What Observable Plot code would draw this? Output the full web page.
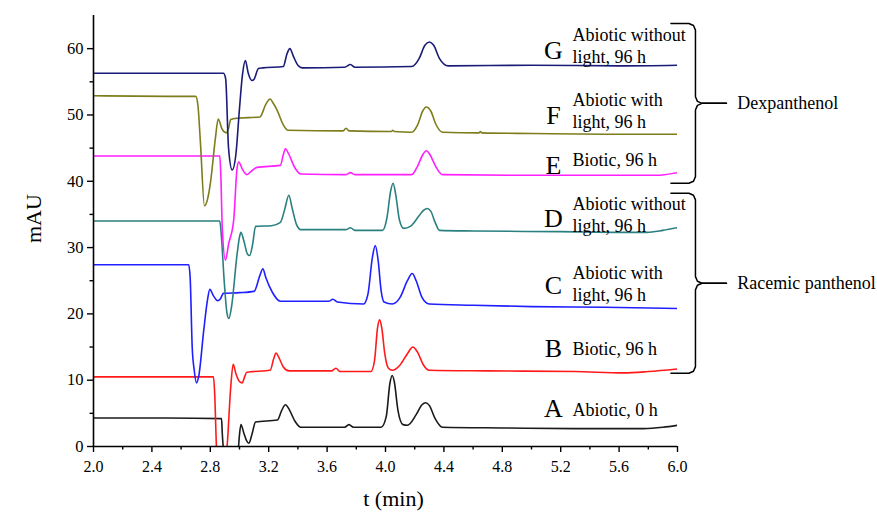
<!DOCTYPE html>
<html>
<head>
<meta charset="utf-8">
<script src="https://cdn.jsdelivr.net/npm/d3@7"></script>
<script src="https://cdn.jsdelivr.net/npm/@observablehq/plot@0.6"></script>
<style>
  html, body { margin: 0; padding: 0; background: #fff; }
</style>
</head>
<body>
<div id="chart"></div>
<script>
// ---- Data (t in min, absorbance in mAU) ----
const seriesA = [[2.0,4.3],[2.5,4.3],[2.877,4.2],[2.882,2],[2.888,0],[2.92,-8],[2.96,-5],[2.99,-1],[3.0,1.8],[3.01,3.3],[3.03,2.0],[3.05,0.8],[3.064,0.5],[3.085,1.8],[3.11,3.7],[3.26,4.0],[3.29,5.5],[3.315,6.3],[3.34,5.6],[3.38,3.8],[3.42,2.9],[3.72,2.9],[3.75,3.3],[3.78,2.9],[3.97,2.9],[4.005,4.5],[4.03,9.5],[4.046,10.7],[4.06,9.8],[4.085,5.5],[4.12,3.3],[4.15,3.2],[4.21,4.8],[4.25,6.3],[4.274,6.6],[4.30,6.2],[4.34,4.2],[4.39,2.9],[4.8,2.8],[5.3,2.7],[5.77,2.7],[5.9,2.9],[6.0,3.2]];
const seriesB = [[2.0,10.5],[2.5,10.5],[2.822,10.5],[2.83,8],[2.842,0],[2.875,-8],[2.905,-2],[2.915,0],[2.94,9],[2.957,12.4],[2.975,11],[3.0,9.8],[3.018,9.6],[3.035,10.5],[3.05,11.2],[3.21,11.5],[3.235,13.3],[3.25,14.1],[3.27,13.4],[3.30,12],[3.34,11.4],[3.63,11.4],[3.66,11.8],[3.69,11.3],[3.90,11.3],[3.925,13],[3.945,17.8],[3.96,19.1],[3.975,17.8],[3.995,14],[4.02,11.8],[4.046,11.5],[4.10,12.3],[4.15,14.0],[4.187,15.0],[4.22,14.2],[4.26,12.3],[4.30,11.5],[4.7,11.4],[5.3,11.3],[5.63,11.1],[5.8,11.3],[6.0,11.7]];
const seriesC = [[2.0,27.4],[2.5,27.4],[2.652,27.4],[2.662,25.5],[2.676,15],[2.69,11.5],[2.705,9.6],[2.72,10.5],[2.755,17.5],[2.78,22.0],[2.797,23.7],[2.82,22.8],[2.85,22.0],[2.87,22.3],[2.89,23.1],[3.0,23.2],[3.10,23.4],[3.14,25.8],[3.16,26.8],[3.18,25.5],[3.224,23.3],[3.28,21.9],[3.61,21.9],[3.64,22.2],[3.67,21.8],[3.85,21.5],[3.88,23],[3.91,28.5],[3.93,30.3],[3.95,28],[3.97,23.5],[3.99,21.8],[4.046,21.5],[4.10,22.5],[4.15,25],[4.183,26.1],[4.21,25],[4.25,22.5],[4.30,21.5],[4.6,21.3],[5.0,21.1],[5.5,21.0],[6.0,20.8]];
const seriesD = [[2.0,34.0],[2.5,34.0],[2.865,34.0],[2.875,32],[2.895,25],[2.915,20],[2.927,19.3],[2.945,21],[2.984,29.1],[3.0,31.6],[3.01,32.3],[3.03,31],[3.055,29],[3.07,28.8],[3.09,30.5],[3.11,33.2],[3.22,33.3],[3.28,33.8],[3.31,35.8],[3.338,37.9],[3.36,36],[3.39,33.5],[3.42,32.7],[3.73,32.7],[3.76,33.0],[3.79,32.6],[3.98,32.6],[4.01,34.5],[4.035,38.5],[4.052,39.7],[4.07,38],[4.095,34.2],[4.125,32.9],[4.17,33.2],[4.23,34.8],[4.26,35.6],[4.285,35.9],[4.31,35.5],[4.34,33.8],[4.37,32.6],[4.6,32.5],[5.2,32.4],[5.6,32.3],[5.79,32.3],[5.9,32.6],[6.0,33.0]];
const seriesE = [[2.0,43.8],[2.5,43.8],[2.865,43.8],[2.872,41],[2.882,33],[2.904,28.1],[2.925,30.5],[2.96,34.1],[2.984,42.1],[2.995,42.9],[3.02,41.8],[3.05,41.0],[3.08,41.5],[3.12,42.1],[3.28,42.4],[3.30,44.0],[3.315,44.9],[3.335,44.2],[3.38,42.0],[3.42,41.1],[3.73,41.0],[3.76,41.3],[3.79,41.0],[4.18,41.0],[4.22,42.3],[4.255,44.0],[4.28,44.6],[4.305,44.0],[4.34,42.4],[4.39,41.0],[5.0,40.9],[5.6,40.9],[5.85,40.9],[6.0,41.3]];
const seriesF = [[2.0,52.9],[2.5,52.8],[2.70,52.8],[2.715,51.5],[2.733,45.6],[2.76,36.3],[2.78,37.2],[2.80,39.6],[2.836,46.7],[2.854,49.4],[2.88,47.9],[2.91,47.3],[2.925,48.0],[2.94,49.3],[2.98,49.5],[3.14,49.7],[3.18,51.6],[3.21,52.4],[3.23,51.8],[3.258,50.7],[3.30,48.5],[3.33,47.7],[3.71,47.6],[3.73,48.0],[3.75,47.6],[4.04,47.5],[4.05,47.7],[4.06,47.5],[4.18,47.4],[4.22,48.5],[4.255,50.6],[4.28,51.2],[4.31,50.6],[4.345,48.6],[4.39,47.4],[4.64,47.3],[4.65,47.5],[4.66,47.3],[5.0,47.2],[5.5,47.1],[6.0,47.1]];
const seriesG = [[2.0,56.3],[2.5,56.3],[2.89,56.3],[2.905,55.5],[2.925,45],[2.95,41.7],[2.975,44],[3.0,51],[3.02,56],[3.04,58.2],[3.06,56.3],[3.085,55.2],[3.10,55.4],[3.13,57.0],[3.16,57.1],[3.30,57.3],[3.325,59.2],[3.345,60.0],[3.37,58.8],[3.40,57.5],[3.43,57.1],[3.72,57.2],[3.76,57.6],[3.79,57.2],[4.18,57.3],[4.23,58.5],[4.27,60.5],[4.30,61.0],[4.33,60.5],[4.37,58.5],[4.43,57.4],[5.0,57.5],[5.6,57.4],[6.0,57.5]];

const letters = ["A","B","C","D","E","F","G"];
const descriptions = ["Abiotic, 0 h","Biotic, 96 h","Abiotic with\nlight, 96 h","Abiotic without\nlight, 96 h","Biotic, 96 h","Abiotic with\nlight, 96 h","Abiotic without\nlight, 96 h"];
const groupNames = ["Dexpanthenol","Racemic panthenol"];
const xMajorTicks = [2.0,2.4,2.8,3.2,3.6,4.0,4.4,4.8,5.2,5.6,6.0];
const xMinorTicks = [2.2,2.6,3.0,3.4,3.8,4.2,4.6,5.0,5.4,5.8];
const yMajorTicks = [0,10,20,30,40,50,60];
const yMinorTicks = [5,15,25,35,45,55];

// ---- Styling / annotation layout ----
const colors = ["#1a1a1a","#ff1a1a","#1f1fff","#2a7f7f","#ff1fff","#7d7d1c","#1b1b78"];
const allSeries = [seriesA,seriesB,seriesC,seriesD,seriesE,seriesF,seriesG];
const letterY = [5.7,14.8,24.3,34.4,42.4,49.9,59.7];
const descY = [5.7,14.8,24.7,35.1,43.4,50.8,60.6];
const letterX = 5.15, descX = 5.28;
const groupSpan = [[63.8,39.7],[38.2,11.05]];

function brace(top, bottom, x0, xs, xtip) {
  const mid = (top + bottom) / 2, rx = 0.045, ry = 1.0;
  const half = (e, s) => [
    [x0, e], [xs - rx, e], [xs - rx*0.3, e - s*ry*0.3], [xs, e - s*ry],
    [xs, mid + s*ry], [xs + rx*0.3, mid + s*ry*0.3], [xs + rx, mid], [xtip, mid]
  ];
  return [half(top, 1), half(bottom, -1)];
}
const braceLines = [];
groupSpan.forEach((g, i) => {
  brace(g[0], g[1], 5.955, 6.123, 6.335).forEach((pts, k) =>
    pts.forEach(p => braceLines.push({x: p[0], y: p[1], id: i*2 + k})));
});
const groupLabels = groupNames.map((n, i) => ({name: n, y: (groupSpan[i][0] + groupSpan[i][1]) / 2}));

const labelRows = letters.map((l, i) => ({letter: l, desc: descriptions[i], ly: letterY[i], dy: descY[i]}));

const chart = Plot.plot({
  width: 877,
  height: 513,
  marginLeft: 93,
  marginRight: 200,
  marginTop: 15,
  marginBottom: 67,
  x: {domain: [2, 6], label: null},
  y: {domain: [0, 65], label: null},
  style: {fontFamily: "'Liberation Serif', 'Times New Roman', serif", fontSize: "16px", background: "#fff", color: "#000"},
  marks: [
    ...allSeries.map((s, i) => Plot.line(s, {x: d => d[0], y: d => d[1], stroke: colors[i], strokeWidth: 1.6, curve: "monotone-x", clip: true})),
    Plot.ruleX([2], {stroke: "#000", strokeWidth: 1.6}),
    Plot.ruleY([0], {stroke: "#000", strokeWidth: 1.6}),
    Plot.axisX({ticks: xMajorTicks, tickSize: 6, tickPadding: 8, tickFormat: d3.format(".1f"), label: null, fontSize: 16, strokeWidth: 1.4}),
    Plot.axisX({ticks: xMinorTicks, tickSize: 3.5, tickFormat: () => "", label: null, strokeWidth: 1.4}),
    Plot.axisY({ticks: yMajorTicks, tickSize: 6, tickPadding: 4, label: null, fontSize: 16.5, strokeWidth: 1.4}),
    Plot.axisY({ticks: yMinorTicks, tickSize: 3.5, tickFormat: () => "", label: null, strokeWidth: 1.4}),
    Plot.text(labelRows, {x: () => letterX, y: "ly", text: "letter", fontSize: 26, textAnchor: "middle", fill: "#000"}),
    Plot.text(labelRows, {x: () => descX, y: "dy", text: "desc", fontSize: 18, textAnchor: "start", lineHeight: 1.22, fill: "#000"}),
    Plot.line(braceLines, {x: "x", y: "y", z: "id", stroke: "#000", strokeWidth: 1.5, curve: "linear"}),
    Plot.text(groupLabels, {x: () => 6.41, y: "y", text: "name", fontSize: 18, textAnchor: "start", fill: "#000"}),
    Plot.text(["t (min)"], {frameAnchor: "bottom", dx: 8, dy: 59, fontSize: 22, fill: "#000"}),
    Plot.text(["mAU"], {frameAnchor: "left", dx: -60, dy: 12, rotate: -90, fontSize: 22, fill: "#000"})
  ]
});
document.getElementById("chart").appendChild(chart);
</script>
</body>
</html>
